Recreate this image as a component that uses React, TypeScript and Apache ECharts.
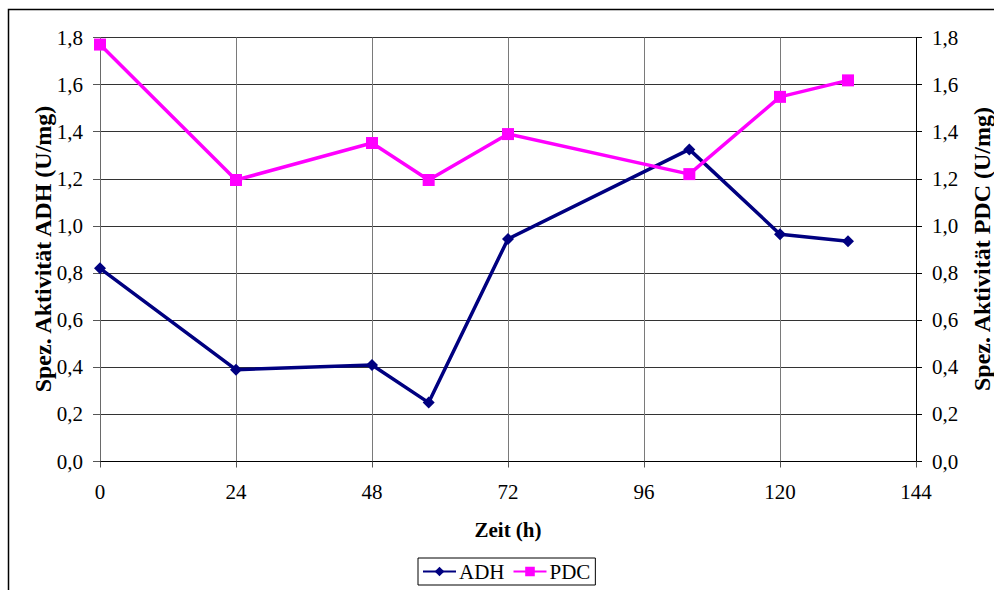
import React, { useEffect, useRef } from "react";
import * as echarts from "echarts";

const timeHours = [0, 24, 48, 58, 72, 104, 120, 132];
const adhValues = [0.82, 0.39, 0.41, 0.25, 0.945, 1.325, 0.965, 0.935];
const pdcValues = [1.77, 1.195, 1.352, 1.195, 1.39, 1.22, 1.548, 1.618];
const xTitle = "Zeit (h)";
const yLeftTitle = "Spez. Aktivität ADH (U/mg)";
const yRightTitle = "Spez. Aktivität PDC (U/mg)";

const FONT = "Liberation Serif";

export default function App() {
  const ref = useRef<HTMLDivElement>(null);
  useEffect(() => {
    if (!ref.current) return;
    const chart = echarts.init(ref.current, null, { renderer: "svg" });
    const fmt = (v: number) => v.toFixed(1).replace(".", ",");
    const gridLeft = 100;
    const gridTop = 37.5;
    const gridRight = 994 - 916;
    const gridBottom = 590 - 461.5;
    const lbl = { color: "#000", fontSize: 21, fontFamily: FONT };
    chart.setOption({
      animation: false,
      backgroundColor: "#fff",
      textStyle: { fontFamily: FONT },
      grid: { left: gridLeft, top: gridTop, right: gridRight, bottom: gridBottom, containLabel: false },
      xAxis: {
        type: "value",
        min: 0,
        max: 144,
        interval: 24,
        axisLine: { show: true, onZero: false, lineStyle: { color: "#000", width: 1 } },
        axisTick: { show: true, length: 6, lineStyle: { color: "#555" } },
        axisLabel: { ...lbl, margin: 20 },
        splitLine: { show: true, lineStyle: { color: "#7a7a7a", width: 1 } },
      },
      yAxis: [
        {
          type: "value",
          min: 0,
          max: 1.8,
          interval: 0.2,
          position: "left",
          axisLine: { show: true, lineStyle: { color: "#6a6a6a", width: 1 } },
          axisTick: { show: true, length: 7, lineStyle: { color: "#555" } },
          axisLabel: { ...lbl, margin: 17, formatter: fmt },
          splitLine: { show: true, lineStyle: { color: "#333", width: 1 } },
        },
        {
          type: "value",
          min: 0,
          max: 1.8,
          interval: 0.2,
          position: "right",
          axisLine: { show: true, lineStyle: { color: "#000", width: 1 } },
          axisTick: { show: true, length: 6, lineStyle: { color: "#000" } },
          axisLabel: { ...lbl, margin: 16, formatter: fmt },
          splitLine: { show: false },
        },
      ],
      legend: {
        left: 418,
        top: 558,
        orient: "horizontal",
        itemWidth: 33,
        itemHeight: 12,
        itemGap: 8,
        padding: [3, 5, 3, 4],
        borderColor: "#000",
        borderWidth: 1,
        textStyle: { color: "#000", fontSize: 21, fontFamily: FONT, padding: [0, 0, 0, -2] },
        data: ["ADH", "PDC"],
      },
      graphic: [
        {
          type: "rect",
          shape: { x: 8.5, y: 9.5, width: 1200, height: 800 },
          style: { fill: "none", stroke: "#000", lineWidth: 1.5 },
          silent: true,
        },
        {
          type: "text",
          x: 508,
          y: 530,
          style: { text: xTitle, font: `bold 21px "Liberation Serif"`, fill: "#000", textAlign: "center", textVerticalAlign: "middle" },
        },
        {
          type: "text",
          x: 43,
          y: 249,
          rotation: Math.PI / 2,
          style: { text: yLeftTitle, font: `bold 24px "Liberation Serif"`, fill: "#000", textAlign: "center", textVerticalAlign: "middle" },
        },
        {
          type: "text",
          x: 982,
          y: 249,
          rotation: Math.PI / 2,
          style: { text: yRightTitle, font: `bold 24px "Liberation Serif"`, fill: "#000", textAlign: "center", textVerticalAlign: "middle" },
        },
      ],
      series: [
        {
          name: "ADH",
          type: "line",
          yAxisIndex: 0,
          data: timeHours.map((t, i) => [t, adhValues[i]]),
          symbol: "diamond",
          symbolSize: 12,
          lineStyle: { color: "#000080", width: 3.5 },
          itemStyle: { color: "#000080" },
        },
        {
          name: "PDC",
          type: "line",
          yAxisIndex: 1,
          data: timeHours.map((t, i) => [t, pdcValues[i]]),
          symbol: "rect",
          symbolSize: 12,
          lineStyle: { color: "#ff00ff", width: 3.5 },
          itemStyle: { color: "#ff00ff" },
        },
      ],
    });
    return () => chart.dispose();
  }, []);
  return <div ref={ref} style={{ width: 994, height: 590, position: "absolute", left: 0, top: 0 }} />;
}
